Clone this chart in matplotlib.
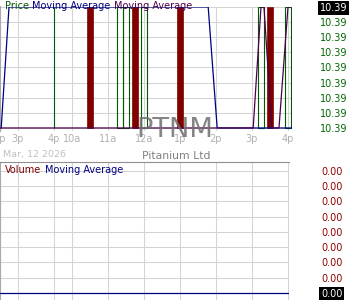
import matplotlib
matplotlib.use("Agg")
import matplotlib.pyplot as plt
from matplotlib.patches import Rectangle
from matplotlib.offsetbox import TextArea, HPacker, AnchoredOffsetbox

# time axis: minutes of trading time, 0 = 2:30p of the previous session
tick_pos = [0, 30, 90, 120, 180, 240, 300, 360, 420, 480]
tick_lbl = ["2p", "3p", "4p", "10a", "11a", "12a", "1p", "2p", "3p", "4p"]

# price scale (flat price, so every tick prints as 10.39)
price_ticks = [10.386, 10.387, 10.388, 10.389, 10.390, 10.391, 10.392, 10.393, 10.394]
lo, hi = 10.386, 10.394

# candles (10 minute bodies)
candle_t = [150, 200, 210, 225, 240, 300, 435, 450, 480]
candle_open = [hi, lo, lo, hi, lo, hi, lo, hi, lo]
candle_close = [lo, hi, hi, lo, hi, lo, hi, lo, hi]
candle_w = 10
flat_t = [90]

# moving averages
ma1_t = [2, 15, 347, 362, 486]
ma1_v = [lo, hi, hi, lo, lo]
ma2_t = [0, 422, 435, 440, 453, 465, 480, 483]
ma2_v = [lo, lo, hi, hi, lo, lo, hi, hi]

# volume panel
vol_ticks = [0.0, 0.0005, 0.001, 0.0015, 0.002, 0.0025, 0.003, 0.0035, 0.004]
vol_ma_t = [0, 482]
vol_ma_v = [0.0, 0.0]

GREEN = "#005a00"
RED = "#800000"
NAVY = "#000080"
PURPLE = "#4a004a"
GRID = "#d4d4d4"

W, H = 350, 300
fig = plt.figure(figsize=(3.5, 3.0), dpi=100)

def fy(py):
    return 1 - py / H

ax1 = fig.add_axes([0, fy(131), 292 / W, (131 - 6.5) / H])
ax2 = fig.add_axes([0, 0, 289 / W, (300 - 162) / H])

ax1.set_xlim(0, 486.7)
ax1.set_ylim(10.3858, 10.39403)
ax2.set_xlim(0, 481.7)
ax2.set_ylim(-0.00023, 0.004295)

for ax in (ax1, ax2):
    ax.set_xticks(tick_pos)
    ax.grid(True, color=GRID, lw=0.75, zorder=0)
    ax.set_axisbelow(True)
    for s in ax.spines.values():
        s.set_visible(False)
    ax.spines["left"].set_visible(True)
    ax.spines["left"].set_color("#a8a8a8")
    ax.yaxis.tick_right()
    ax.tick_params(length=0)

ax1.set_xticklabels(tick_lbl)
ax1.tick_params(axis="x", labelsize=7, labelcolor="#b0b0b0", pad=2.5)
ax2.tick_params(axis="x", labelbottom=False)
ax2.spines["top"].set_visible(True)
ax2.spines["top"].set_color("#909090")

ax1.set_yticks(price_ticks)
ax1.set_yticklabels([f"{v:.2f}" for v in price_ticks])
ax1.tick_params(axis="y", labelsize=7, labelcolor="#006600", pad=20)
ax2.set_yticks(vol_ticks)
ax2.set_yticklabels([f"{v:.2f}" for v in vol_ticks])
ax2.tick_params(axis="y", labelsize=7, labelcolor="#900000", pad=23)

hl = ax1.yaxis.get_major_ticks()[-1].label2
hl.set_color("white")
hl.set_bbox(dict(facecolor="black", edgecolor="none", pad=1.2))
hl = ax2.yaxis.get_major_ticks()[0].label2
hl.set_color("white")
hl.set_bbox(dict(facecolor="black", edgecolor="none", pad=1.2))

# candles
for t, o, c in zip(candle_t, candle_open, candle_close):
    bottom = min(o, c)
    height = abs(c - o)
    if c < o:
        r = Rectangle((t - candle_w / 2, bottom), candle_w, height,
                      facecolor=RED, edgecolor=RED, lw=0.5, zorder=3)
    else:
        r = Rectangle((t - candle_w / 2, bottom), candle_w, height,
                      facecolor="none", edgecolor=GREEN, lw=0.8, zorder=3)
    ax1.add_patch(r)
ax1.vlines(flat_t, lo, hi, color=GREEN, lw=0.8, zorder=3)

ax1.plot(ma1_t, ma1_v, color=NAVY, lw=0.9, zorder=4)
ax1.plot(ma2_t, ma2_v, color=PURPLE, lw=0.9, zorder=5)
ax2.plot(vol_ma_t, vol_ma_v, color=NAVY, lw=0.9, zorder=4)

# legends
def legend_row(x_px, y_px, parts):
    boxes = [TextArea(s, textprops=dict(color=c, size=7.0)) for s, c in parts]
    pack = HPacker(children=boxes, align="baseline", pad=0, sep=2.4)
    box = AnchoredOffsetbox(loc="upper left", child=pack, pad=0, borderpad=0,
                            frameon=False, bbox_to_anchor=(x_px / W, fy(y_px)),
                            bbox_transform=fig.transFigure)
    box.set_zorder(10)
    fig.add_artist(box)

legend_row(5, 0.8, [("Price", GREEN), ("Moving Average", NAVY), ("Moving Average", PURPLE)])
legend_row(5, 164.8, [("Volume", RED), ("Moving Average", NAVY)])

# titles and watermark
fig.text(175 / W, fy(137), "PTNM", fontsize=19.7, color="#707070", alpha=0.85,
         ha="center", va="baseline", zorder=6)
fig.text(3 / W, fy(154), "Mar, 12 2026", fontsize=6.8, color="#c0c0c0",
         ha="left", va="center")
fig.text(176 / W, fy(156.5), "Pitanium Ltd", fontsize=7.8, color="#808080",
         ha="center", va="center")

fig.savefig("out.png", dpi=100)
